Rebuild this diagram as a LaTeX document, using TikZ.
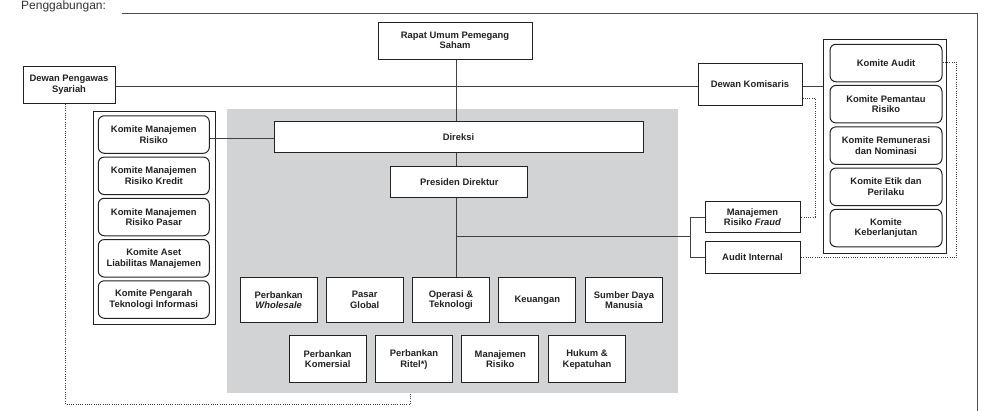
\documentclass[tikz,border=0pt]{standalone}
\usepackage{fontspec}
\setmainfont{Liberation Sans}
\definecolor{panel}{HTML}{D1D3D5}
\definecolor{ink}{HTML}{222222}
\definecolor{wire}{HTML}{404040}
\begin{document}
\begin{tikzpicture}[x=1pt,y=-1pt,
  lbl/.style={font=\fontsize{9.4}{10.6}\selectfont\bfseries, text=ink, align=center},
  box/.style={lbl, draw=ink, line width=1pt, fill=white, inner sep=0pt},
  rbox/.style={box, rounded corners=6pt, minimum width=111pt, minimum height=37.5pt},
  unitbox/.style={box, minimum width=77pt, minimum height=45.5pt},
  frame/.style={draw=ink, line width=0.9pt},
  conn/.style={draw=wire, line width=0.85pt},
  dotline/.style={draw=wire, line width=0.85pt, dash pattern=on 0.85pt off 1.4pt}
]
\useasboundingbox (0,0) rectangle (987,410);

% heading and outer frame
\node[anchor=base west, inner sep=0pt, font=\fontsize{12}{14}\selectfont, text=black!80] (pg) at (21,9.5) {Penggabungan:};
\draw[draw=black!70, line width=0.9pt] (122,13) -- (977,13) -- (977,412);

% gray panel
\fill[panel] (227,109) rectangle (678,393);
\coordinate (panelbot) at (410.7,393);

% committee frames
\draw[frame] (93,111) rectangle (215,324);
\draw[frame] (823,39) rectangle (946,253);
\coordinate (rframe) at (823,86);

% top nodes
\node[box, minimum width=154pt, minimum height=37pt] (rups) at (455,40.5) {Rapat Umum Pemegang\\Saham};
\node[box, minimum width=92pt, minimum height=37pt] (dps) at (69,84.5) {Dewan Pengawas\\Syariah};
\node[box, minimum width=104pt, minimum height=42pt] (dk) at (750,84) {Dewan Komisaris};

% right committees
\node[rbox, minimum width=112pt] (ka) at (886,63) {Komite Audit};
\node[rbox, minimum width=112pt] (kpr) at (886,104.2) {Komite Pemantau\\Risiko};
\node[rbox, minimum width=112pt] (krn) at (886,145.6) {Komite Remunerasi\\dan Nominasi};
\node[rbox, minimum width=112pt] (kep) at (886,186.8) {Komite Etik dan\\Perilaku};
\node[rbox, minimum width=112pt] (kb) at (886,228) {Komite\\Keberlanjutan};

% left committees
\node[rbox] (kmr) at (153.8,134.5) {Komite Manajemen\\Risiko};
\node[rbox] (kmrk) at (153.8,175.8) {Komite Manajemen\\Risiko Kredit};
\node[rbox] (kmrp) at (153.8,217) {Komite Manajemen\\Risiko Pasar};
\node[rbox] (kalm) at (153.8,258.3) {Komite Aset\\Liabilitas Manajemen};
\node[rbox] (kpti) at (153.8,299.5) {Komite Pengarah\\Teknologi Informasi};

% management
\node[box, minimum width=369pt, minimum height=30.5pt] (dir) at (458.5,137) {Direksi};
\node[box, minimum width=137pt, minimum height=31pt] (pd) at (459.4,182.3) {Presiden Direktur};
\node[box, minimum width=95pt, minimum height=30.5pt] (mrf) at (752.5,217) {Manajemen\\Risiko \textit{Fraud}};
\node[box, minimum width=95pt, minimum height=31.5pt] (ai) at (752.5,257.5) {Audit Internal};

% units row 1
\node[unitbox] (u1) at (278.7,300) {Perbankan\\\textit{Wholesale}};
\node[unitbox] (u2) at (364.7,300) {Pasar\\Global};
\node[unitbox] (u3) at (451,300) {Operasi \&\\Teknologi};
\node[unitbox] (u4) at (537.3,300) {Keuangan};
\node[unitbox] (u5) at (624,300) {Sumber Daya\\Manusia};
% units row 2
\node[unitbox, minimum height=46.7pt] (v1) at (327.7,359.3) {Perbankan\\Komersial};
\node[unitbox, minimum height=46.7pt] (v2) at (414,359.3) {Perbankan\\Ritel*)};
\node[unitbox, minimum height=46.7pt] (v3) at (500.3,359.3) {Manajemen\\Risiko};
\node[unitbox, minimum height=46.7pt] (v4) at (587,359.3) {Hukum \&\\Kepatuhan};

% helper coordinates
\coordinate (spine) at (456.7,0);
\coordinate (hl) at (0,86);
\coordinate (fork) at (690.7,236.7);
\coordinate (dkx) at (815,98.3);
\coordinate (kax) at (956.7,62);
\coordinate (dpsx) at (65.7,404);

% solid connectors
\draw[conn] (rups.south -| spine) -- (dir.north -| spine);
\draw[conn] (dps.east |- hl) -- (dk.west |- hl);
\draw[conn] (dk.east |- hl) -- (rframe);
\draw[conn] (kmr.east |- 0,138.3) -- (dir.west |- 0,138.3);
\draw[conn] (dir.south -| spine) -- (pd.north -| spine);
\draw[conn] (pd.south -| spine) -- (u3.north -| spine);
\draw[conn] (spine |- fork) -- (fork);
\draw[conn] (mrf.west) -| (fork) |- (ai.west);

% dotted connectors
\draw[dotline] (ka.east |- kax) -- (kax) |- (ai.east);
\draw[dotline] (dk.east |- dkx) -- (dkx) |- (mrf.east);
\draw[dotline] (dps.south -| dpsx) -- (dpsx) -| (panelbot);
\end{tikzpicture}
\end{document}
